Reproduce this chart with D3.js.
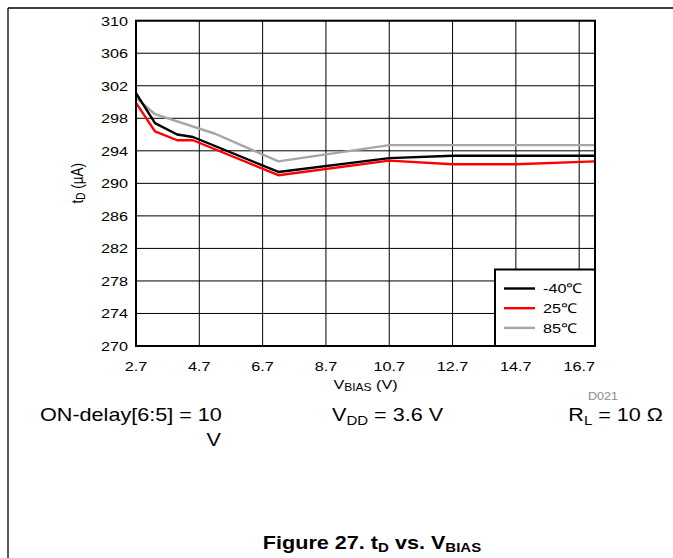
<!DOCTYPE html>
<html>
<head>
<meta charset="utf-8">
<script src="https://cdn.jsdelivr.net/npm/d3@7"></script>
<style>
  html, body { margin: 0; padding: 0; background: #fff; }
  svg { display: block; font-family: "Liberation Sans", Arial, sans-serif; }
</style>
</head>
<body>
<svg id="chart" width="673" height="558"></svg>
<script>
// Turn-on delay vs. bias voltage, three temperatures
const xTicks = [2.7, 4.7, 6.7, 8.7, 10.7, 12.7, 14.7, 16.7];
const yTicks = [270, 274, 278, 282, 286, 290, 294, 298, 302, 306, 310];

const vbiasCold = [2.7, 3.3, 4.0, 4.5, 7.2, 10.7, 12.7, 17.2];
const tdCold    = [301.1, 297.4, 296.0, 295.7, 291.4, 293.1, 293.4, 293.4];

const vbiasRoom = [2.7, 3.3, 4.0, 4.5, 7.2, 10.7, 12.7, 14.7, 17.2];
const tdRoom    = [299.9, 296.4, 295.3, 295.3, 291.0, 292.8, 292.35, 292.35, 292.7];

const vbiasHot  = [2.7, 3.3, 5.2, 7.2, 10.7, 17.2];
const tdHot     = [300.5, 298.5, 296.1, 292.7, 294.7, 294.7];

const seriesNames = ["-40\u2103", "25\u2103", "85\u2103"];
const seriesColors = ["#000000", "#ff0000", "#a6a6a6"];

const series = [
  { name: seriesNames[0], color: seriesColors[0], xs: vbiasCold, ys: tdCold },
  { name: seriesNames[1], color: seriesColors[1], xs: vbiasRoom, ys: tdRoom },
  { name: seriesNames[2], color: seriesColors[2], xs: vbiasHot,  ys: tdHot }
];

const svg = d3.select("#chart");
const stretch = 1.2; // text is drawn slightly wide

const plot = { left: 136, right: 595, top: 20.7, bottom: 346 };
const x = d3.scaleLinear().domain([2.7, 17.2]).range([plot.left, plot.right]);
const y = d3.scaleLinear().domain([270, 310]).range([plot.bottom, plot.top]);

// helper for wide text
function wideText(parent, px, py, anchor, size, weight) {
  return parent.append("text")
    .attr("transform", `translate(${px},${py}) scale(${stretch},1)`)
    .attr("text-anchor", anchor)
    .attr("font-size", size)
    .attr("font-weight", weight || "normal")
    .attr("fill", "#000");
}

// page frame
svg.append("line").attr("x1", 8).attr("x2", 673).attr("y1", 8).attr("y2", 8)
  .attr("stroke", "#000").attr("stroke-width", 1.3);
svg.append("line").attr("x1", 8).attr("x2", 8).attr("y1", 8).attr("y2", 558)
  .attr("stroke", "#000").attr("stroke-width", 1.3);

// grid
const grid = svg.append("g");
grid.selectAll("line.v").data(xTicks).join("line")
  .attr("x1", d => x(d)).attr("x2", d => x(d))
  .attr("y1", plot.top).attr("y2", plot.bottom)
  .attr("stroke", "#000").attr("stroke-width", 1);
grid.selectAll("line.h").data(yTicks).join("line")
  .attr("x1", plot.left).attr("x2", plot.right)
  .attr("y1", d => y(d)).attr("y2", d => y(d))
  .attr("stroke", "#000").attr("stroke-width", 1);

// data lines
const line = d3.line().x(d => x(d[0])).y(d => y(d[1]));
svg.append("g").selectAll("path").data(series.slice().reverse()).join("path")
  .attr("d", s => line(s.xs.map((v, i) => [v, s.ys[i]])))
  .attr("fill", "none")
  .attr("stroke", s => s.color)
  .attr("stroke-width", 2.4)
  .attr("stroke-linejoin", "round");

// plot border
svg.append("rect")
  .attr("x", plot.left).attr("y", plot.top)
  .attr("width", plot.right - plot.left).attr("height", plot.bottom - plot.top)
  .attr("fill", "none").attr("stroke", "#000").attr("stroke-width", 2);

// axes labels
const labels = svg.append("g");
yTicks.forEach(t => {
  wideText(labels, 128, y(t) + 4.8, "end", 13.5).text(t);
});
xTicks.forEach(t => {
  wideText(labels, x(t), 371, "middle", 13.5).text(d3.format(".1f")(t));
});

// axis titles
const xt = wideText(svg, (plot.left + plot.right) / 2, 389, "middle", 13.5);
xt.append("tspan").text("V");
xt.append("tspan").attr("font-size", 10).attr("dy", 2).text("BIAS");
xt.append("tspan").attr("dy", -2).text(" (V)");

const yt = svg.append("text")
  .attr("transform", `translate(83,${(plot.top + plot.bottom) / 2}) rotate(-90) scale(1,${stretch})`)
  .attr("text-anchor", "middle").attr("font-size", 13.5);
yt.append("tspan").text("t");
yt.append("tspan").attr("font-size", 10).attr("dy", 2).text("D");
yt.append("tspan").attr("dy", -2).text(" (\u00b5A)");

wideText(svg, 603, 400, "middle", 10.5).attr("fill", "#8c8c8c").text("D021");

// legend
const lg = svg.append("g");
lg.append("rect").attr("x", 495).attr("y", 269.5).attr("width", 100).attr("height", plot.bottom - 269.5)
  .attr("fill", "#fff").attr("stroke", "#000").attr("stroke-width", 2);
series.forEach((s, i) => {
  const cy = 288.5 + i * 19.7;
  lg.append("line").attr("x1", 504).attr("x2", 535).attr("y1", cy).attr("y2", cy)
    .attr("stroke", s.color).attr("stroke-width", 2.4);
  wideText(lg, 543, cy + 4.8, "start", 13.5).text(s.name);
});

// conditions
wideText(svg, 40, 421, "start", 18).text("ON-delay[6:5] = 10");
wideText(svg, 221, 446, "end", 18).text("V");
const c2 = wideText(svg, 332, 421, "start", 18);
c2.append("tspan").text("V");
c2.append("tspan").attr("font-size", 12.5).attr("dy", 4).text("DD");
c2.append("tspan").attr("dy", -4).text(" = 3.6 V");
const c3 = wideText(svg, 663, 421, "end", 18);
c3.append("tspan").text("R");
c3.append("tspan").attr("font-size", 12.5).attr("dy", 4).text("L");
c3.append("tspan").attr("dy", -4).text(" = 10 \u03a9");

// caption
const cap = wideText(svg, 372, 549, "middle", 18, "bold");
cap.append("tspan").text("Figure 27. t");
cap.append("tspan").attr("font-size", 12.5).attr("dy", 3).text("D");
cap.append("tspan").attr("dy", -3).text(" vs. V");
cap.append("tspan").attr("font-size", 12.5).attr("dy", 3).text("BIAS");
</script>
</body>
</html>
